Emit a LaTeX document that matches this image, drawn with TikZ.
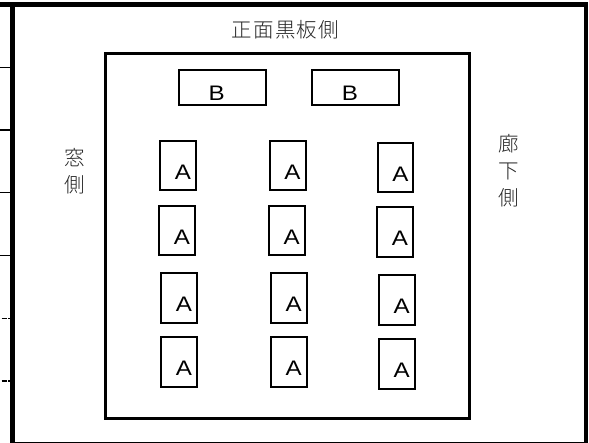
\documentclass[tikz,border=0pt]{standalone}
\usepackage{fontspec}
\newfontfamily\lat[FakeStretch=1.15]{Liberation Sans}
\newfontfamily\cjk{Noto Sans CJK JP Light}
\tikzset{
  tick/.style={line width=1.3pt,draw=black},
  room/.style={line width=2.8pt,draw=black},
  desk/.style={line width=2pt,draw=black},
  deskmark/.style={font=\lat\fontsize{21}{21}\selectfont,inner sep=0pt,text=black},
  jp/.style={font=\cjk\fontsize{20.5}{27}\selectfont,inner sep=0pt,align=center,text=black!85},
}
\newcommand{\deskbox}[5]{%
  \draw[desk] (#1,#2) rectangle (#3,#4);
  \node[deskmark] at ({(#1+#3)/2+5},{(#2+#4)/2+6.5}) {#5};}
\begin{document}
\begin{tikzpicture}[x=1pt,y=-1pt]
\path[use as bounding box,fill=white] (0,0) rectangle (589,443);
% outer walls
\fill[black] (0,2) rectangle (583.5,7);
\fill[black] (10,2) rectangle (15,443);
\fill[black] (583.5,2.5) rectangle (588,443);
\fill[black] (15,441.6) rectangle (583.5,443);
% ticks on the left
\foreach \y in {67.7,130,192.7,255.7} \draw[tick] (0,\y) -- (10,\y);
\foreach \y in {318.3,381} {\draw[tick] (1.5,\y) -- (6.5,\y); \draw[tick] (8,\y) -- (10,\y);}
% room
\draw[room] (105.3,53.3) rectangle (469.7,418.7);
% boards
\draw[desk] (179,70) rectangle (265.7,105);
\node[deskmark] (b1) at (216.7,93.2) {B};
\draw[desk] (312,70) rectangle (398.7,105);
\node[deskmark] (b2) at (350,93.2) {B};
% desks
\deskbox{160}{141}{196}{190}{A}
\deskbox{269.5}{141}{305.5}{190.5}{A}
\deskbox{377.5}{142.7}{413.3}{192.3}{A}
\deskbox{159}{205.7}{195}{255}{A}
\deskbox{268.7}{205.7}{304.5}{255}{A}
\deskbox{377}{207.5}{412.7}{256.7}{A}
\deskbox{160.8}{273.2}{197}{322.7}{A}
\deskbox{270.7}{273.2}{306.5}{323}{A}
\deskbox{378.8}{275}{414.7}{325}{A}
\deskbox{160.8}{337.2}{197}{386.7}{A}
\deskbox{270.7}{337.5}{306.5}{387}{A}
\deskbox{378.8}{339.3}{414.7}{389}{A}
% labels
\node[jp] (front) at (285.5,30) {\addfontfeature{LetterSpace=6}正面黒板側};
\node[jp] (win) at (75,171.5) {窓\\側};
\node[jp] (hall) at (509,171) {廊\\下\\側};
\end{tikzpicture}
\end{document}
